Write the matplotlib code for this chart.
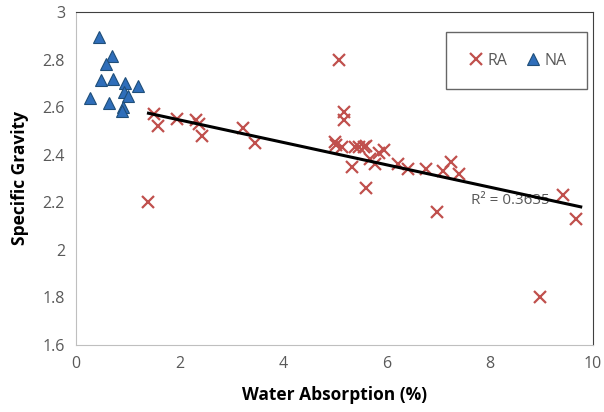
import numpy as np
import matplotlib.pyplot as plt

# RA (recycled aggregate) readings
ra_wa = [1.40, 1.50, 1.58, 1.96, 2.32, 2.38, 2.43, 3.22, 3.46,
         5.09, 5.18, 5.18, 5.00, 5.03, 5.14, 5.33, 5.40, 5.48, 5.56, 5.61,
         5.61, 5.69, 5.78, 5.85, 5.96, 6.23, 6.41, 6.77, 6.98, 7.10, 7.25,
         7.41, 8.97, 9.41, 9.67]
ra_sg = [2.20, 2.57, 2.52, 2.55, 2.545, 2.53, 2.48, 2.51, 2.45,
         2.80, 2.58, 2.545, 2.455, 2.44, 2.43, 2.35, 2.43, 2.43, 2.43, 2.435,
         2.26, 2.38, 2.36, 2.405, 2.42, 2.36, 2.34, 2.34, 2.16, 2.33, 2.37,
         2.32, 1.80, 2.23, 2.13]

# NA (natural aggregate) readings
na_wa = [0.45, 0.70, 0.57, 0.48, 0.71, 0.95, 1.19, 0.93, 1.01, 0.27, 0.64, 0.90, 0.89]
na_sg = [2.895, 2.815, 2.78, 2.715, 2.72, 2.70, 2.69, 2.665, 2.645, 2.64, 2.615, 2.60, 2.585]

# linear trendline through RA, as shown on the chart
trend_slope = -0.0471
trend_intercept = 2.640
r2_text = "R² = 0.3635"

plt.rcParams['font.family'] = ['Open Sans', 'DejaVu Sans']

fig = plt.figure(figsize=(6.04, 4.12), dpi=100)
ax = fig.add_axes([0.126, 0.163, 0.856, 0.808])

ax.plot(ra_wa, ra_sg, linestyle='none', marker='x', markersize=8.5,
        markeredgewidth=1.6, color='#C0504D', label='RA', zorder=3)
ax.plot(na_wa, na_sg, linestyle='none', marker='^', markersize=9,
        markerfacecolor='#2F6EBA', markeredgecolor='#1F4E79',
        markeredgewidth=0.8, label='NA', zorder=3)

tx = np.array([min(ra_wa), max(ra_wa) + 0.09])
ax.plot(tx, trend_intercept + trend_slope * tx, color='black', linewidth=2.2, zorder=4)
ax.text(7.63, 2.205, r2_text, fontsize=11, color='#595959', va='center', ha='left', zorder=2)

ax.set_xlim(0, 10)
ax.set_ylim(1.6, 3.0)
ax.set_xticks(np.arange(0, 11, 2))
ax.set_yticks(np.arange(1.6, 3.01, 0.2))
ax.set_yticklabels(['1.6', '1.8', '2', '2.2', '2.4', '2.6', '2.8', '3'])
ax.tick_params(length=0, labelsize=11.5, colors='#595959', pad=8)

ax.set_xlabel('Water Absorption (%)', fontsize=12.5, fontweight='bold', labelpad=10)
ax.set_ylabel('Specific Gravity', fontsize=12.5, fontweight='bold', labelpad=10)

for side in ['left', 'bottom']:
    ax.spines[side].set_color('#BFBFBF')
for side in ['top', 'right']:
    ax.spines[side].set_color('#404040')

leg = ax.legend(loc='upper right', bbox_to_anchor=(0.988, 0.94), ncol=2,
                fontsize=11.5, frameon=True, fancybox=False, borderpad=1.3,
                handletextpad=0.1, columnspacing=1.0, handlelength=1.2,
                borderaxespad=0)
leg.get_frame().set_edgecolor('#404040')
leg.get_frame().set_linewidth(1.0)
for t in leg.get_texts():
    t.set_color('#595959')

fig.savefig('out.png', dpi=100)
